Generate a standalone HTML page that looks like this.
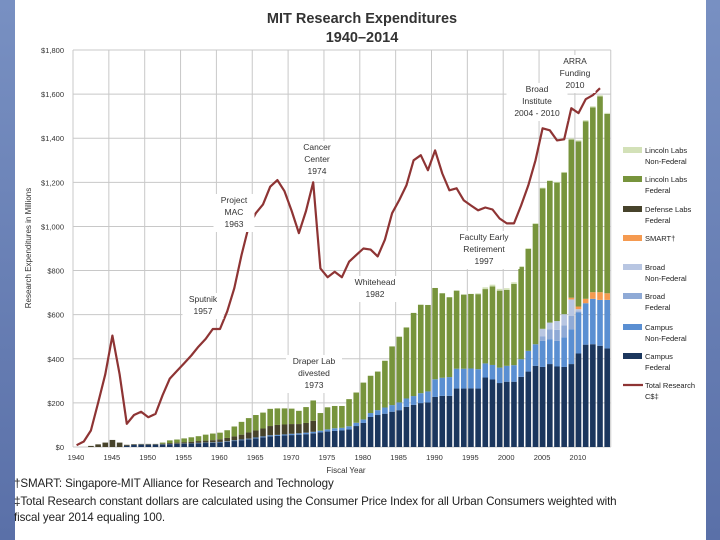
<!DOCTYPE html>
<html><head><meta charset="utf-8">
<style>
body{margin:0;width:720px;height:540px;overflow:hidden;background:#fff;font-family:"Liberation Sans",sans-serif;position:relative}
.band{position:absolute;top:0;height:540px}
.foot{position:absolute;left:14px;font-size:11.6px;color:#222;white-space:nowrap;letter-spacing:-0.1px}
</style></head>
<body>
<div class="band" style="left:0;width:15px;background:linear-gradient(#7890c2,#5a70a8)"></div>
<div class="band" style="left:706px;width:14px;background:linear-gradient(#7890c2,#5a70a8)"></div>
<svg id="chart" width="720" height="540" style="position:absolute;left:0;top:0" font-family="Liberation Sans, sans-serif">
<text x="362" y="23" text-anchor="middle" font-size="14.5" font-weight="bold" fill="#333">MIT Research Expenditures</text>
<text x="362" y="42" text-anchor="middle" font-size="14.5" font-weight="bold" fill="#333">1940–2014</text>
<g id="grid"></g><g id="bars"></g><g id="line"></g><g id="axes"></g><g id="notes"></g><g id="legend"></g>
</svg>
<div class="foot" style="top:477px">†SMART: Singapore-MIT Alliance for Research and Technology</div>
<div class="foot" style="top:495px">‡Total Research constant dollars are calculated using the Consumer Price Index for all Urban Consumers weighted with</div>
<div class="foot" style="top:511px">fiscal year 2014 equaling 100.</div>
<script>
const barYears=[1942,1943,1944,1945,1946,1947,1948,1949,1950,1951,1952,1953,1954,1955,1956,1957,1958,1959,1960,1961,1962,1963,1964,1965,1966,1967,1968,1969,1970,1971,1972,1973,1974,1975,1976,1977,1978,1979,1980,1981,1982,1983,1984,1985,1986,1987,1988,1989,1990,1991,1992,1993,1994,1995,1996,1997,1998,1999,2000,2001,2002,2003,2004,2005,2006,2007,2008,2009,2010,2011,2012,2013,2014];
const campusFederal=[0,0,0,0,0,6,9,10,10,10,11,13,14,15,16,17,18,19,21,24,27,31,35,39,44,48,50,52,54,56,58,62,66,70,73,75,80,95,109,136,145,151,160,167,182,191,199,202,227,232,232,265,265,266,265,315,306,290,296,296,318,342,368,363,376,365,363,376,424,464,466,459,447];
const campusNonFederal=[0,0,0,0,0,0,1,1,1,1,1,1,1,1,1,2,2,2,2,2,3,3,3,4,4,5,5,5,6,6,7,7,8,10,12,12,14,15,16,18,22,28,30,35,38,40,45,50,80,82,85,90,90,90,88,64,66,70,72,75,80,94,98,118,113,116,134,158,186,188,206,208,220];
const broadFederal=[0,0,0,0,0,0,0,0,0,0,0,0,0,0,0,0,0,0,0,0,0,0,0,0,0,0,0,0,0,0,0,0,0,0,0,0,0,0,0,0,0,0,0,0,0,0,0,0,0,0,0,0,0,0,0,0,0,0,0,0,0,0,0,20,45,50,55,60,5,0,0,0,0];
const broadNonFederal=[0,0,0,0,0,0,0,0,0,0,0,0,0,0,0,0,0,0,0,0,0,0,0,0,0,0,0,0,0,0,0,0,0,0,0,0,0,0,0,0,0,0,0,0,0,0,0,0,0,0,0,0,0,0,0,0,0,0,0,0,0,0,0,35,30,40,50,75,10,0,0,0,0];
const smart=[0,0,0,0,0,0,0,0,0,0,0,0,0,0,0,0,0,0,0,0,0,0,0,0,0,0,0,0,0,0,0,0,0,0,0,0,0,0,0,0,0,0,0,0,0,0,0,0,0,0,0,0,0,0,0,0,0,0,0,0,0,0,0,0,0,0,0,8,12,20,30,35,30];
const defenseLabsFederal=[5,12,20,32,20,4,3,3,3,3,3,4,5,6,7,8,9,10,12,15,18,22,28,32,36,42,45,45,44,42,44,50,0,0,0,0,0,0,0,0,0,0,0,0,0,0,0,0,0,0,0,0,0,0,0,0,0,0,0,0,0,0,0,0,0,0,0,0,0,0,0,0,0];
const lincolnFederal=[0,0,0,0,0,0,0,0,0,0,5,12,14,17,20,22,27,30,30,35,45,58,65,70,72,78,75,73,70,60,72,92,80,100,101,99,123,137,167,169,175,212,266,298,322,377,401,392,414,383,362,354,336,338,340,337,356,349,344,368,418,462,545,637,642,628,642,717,749,805,838,888,813];
const lincolnNonFederal=[0,0,0,0,0,0,0,0,0,0,0,0,0,0,0,0,0,0,0,0,0,0,0,0,0,0,0,0,0,0,0,0,0,0,0,0,0,0,0,0,0,0,0,0,0,0,0,0,0,0,0,0,0,0,4,8,8,8,8,8,4,4,4,3,3,3,3,5,5,5,5,5,5];
const lineYears=[1940,1941,1942,1943,1944,1945,1946,1947,1948,1949,1950,1951,1952,1953,1954,1955,1956,1957,1958,1959,1960,1961,1962,1963,1964,1965,1966,1967,1968,1969,1970,1971,1972,1973,1974,1975,1976,1977,1978,1979,1980,1981,1982,1983,1984,1985,1986,1987,1988,1989,1990,1991,1992,1993,1994,1995,1996,1997,1998,1999,2000,2001,2002,2003,2004,2005,2006,2007,2008,2009,2010,2011,2012,2013];
const totalConstant=[8,25,75,200,330,505,330,105,145,160,135,150,235,310,345,380,415,455,490,535,535,615,720,870,1000,1060,1100,1180,1210,1160,1070,970,1070,1200,810,770,795,770,840,870,900,895,864,940,1060,1120,1186,1300,1323,1255,1345,1240,1164,1173,1118,1095,1073,1086,1077,1036,1014,1014,1095,1186,1300,1445,1436,1390,1395,1536,1514,1577,1595,1627];
const yTicks=[0,200,400,600,800,1000,1200,1400,1600,1800];
const yTickLabels=["$0","$200","$400","$600","$800","$1,000","$1,200","$1,400","$1,600","$1,800"];
const xTicks=[1940,1945,1950,1955,1960,1965,1970,1975,1980,1985,1990,1995,2000,2005,2010];

const NS="http://www.w3.org/2000/svg";
const X0=73,XW=7.17,Y0=447,YS=(447-50)/1800;
const xs=yr=>X0+(yr-1940)*XW;
const ys=v=>Y0-v*YS;
function mk(tag,attrs,parent){const e=document.createElementNS(NS,tag);for(const k in attrs)e.setAttribute(k,attrs[k]);parent.appendChild(e);return e;}
const grid=document.getElementById('grid'),axes=document.getElementById('axes');
yTicks.forEach((t,i)=>{
  const l=mk('line',{x1:X0,x2:xs(2015),y1:ys(t),y2:ys(t),stroke:'#c8c8c8','stroke-width':1},grid);
  
  
  const tx=mk('text',{x:64,y:ys(t)+3,'text-anchor':'end','font-size':7.5,fill:'#333'},axes);
  tx.textContent=yTickLabels[i];
  
  
});
xTicks.concat([2015]).forEach(t=>{
  const l=mk('line',{x1:xs(t),x2:xs(t),y1:ys(1800),y2:Y0,stroke:'#c8c8c8','stroke-width':1},grid);
  
  
});
xTicks.forEach(t=>{
  const tx=mk('text',{x:xs(t)+3,y:460,'text-anchor':'middle','font-size':7.5,fill:'#333'},axes);
  tx.textContent=String(t);
  
  
});
let t1=mk('text',{x:346,y:473,'text-anchor':'middle','font-size':8,fill:'#333'},axes);t1.textContent='Fiscal Year';


let t2=mk('text',{x:31,y:248,'text-anchor':'middle','font-size':8,fill:'#333',transform:'rotate(-90 31 248)'},axes);t2.textContent='Research Expenditures in Millions';



const series=[
 ['campus-federal',campusFederal,'#1b365d'],
 ['campus-non-federal',campusNonFederal,'#5a8fd2'],
 ['broad-federal',broadFederal,'#8faad6'],
 ['broad-non-federal',broadNonFederal,'#b8c6e2'],
 ['smart',smart,'#f59a50'],
 ['defense-labs-federal',defenseLabsFederal,'#47432b'],
 ['lincoln-labs-federal',lincolnFederal,'#77943c'],
 ['lincoln-labs-non-federal',lincolnNonFederal,'#d3e1b8']];
const bars=document.getElementById('bars');
barYears.forEach((yr,i)=>{
  let acc=0;
  series.forEach(s=>{
    const v=s[1][i]; if(!v)return;
    const r=mk('rect',{x:xs(yr)+0.8,width:5.6,y:ys(acc+v),height:v*YS,fill:s[2]},bars);
    
    
    acc+=v;
  });
});
const pts=lineYears.map((yr,i)=>(xs(yr)+3.6).toFixed(1)+','+ys(totalConstant[i]).toFixed(1)).join(' ');
const pl=mk('polyline',{points:pts,fill:'none',stroke:'#8e3434','stroke-width':2.2,'stroke-linejoin':'round'},document.getElementById('line'));



const notes=[
 ['sputnik-note',203,302,['Sputnik','1957']],
 ['project-mac-note',234,203,['Project','MAC','1963']],
 ['cancer-center-note',317,150,['Cancer','Center','1974']],
 ['whitehead-note',375,285,['Whitehead','1982']],
 ['draper-lab-note',314,364,['Draper Lab','divested','1973']],
 ['faculty-retirement-note',484,240,['Faculty Early','Retirement','1997']],
 ['broad-institute-note',537,92,['Broad','Institute','2004 - 2010']],
 ['arra-note',575,64,['ARRA','Funding','2010']]];
const ng=document.getElementById('notes');
notes.forEach(n=>{
  const g=mk('g',{},ng);
  
  
  const w=Math.max(...n[3].map(s=>s.length))*5+6;
  mk('rect',{x:n[1]-w/2,y:n[2]-9,width:w,height:n[3].length*12+2,fill:'#fff'},g);
  n[3].forEach((s,k)=>{const t=mk('text',{x:n[1],y:n[2]+k*12,'text-anchor':'middle','font-size':8.5,fill:'#333'},g);t.textContent=s;});
});
const legend=[
 ['legend-lincoln-non-federal','#d3e1b8',150,['Lincoln Labs','Non-Federal'],'rect'],
 ['legend-lincoln-federal','#77943c',179,['Lincoln Labs','Federal'],'rect'],
 ['legend-defense-labs','#47432b',209,['Defense Labs','Federal'],'rect'],
 ['legend-smart','#f59a50',238,['SMART†'],'rect'],
 ['legend-broad-non-federal','#b8c6e2',267,['Broad','Non-Federal'],'rect'],
 ['legend-broad-federal','#8faad6',296,['Broad','Federal'],'rect'],
 ['legend-campus-non-federal','#5a8fd2',327,['Campus','Non-Federal'],'rect'],
 ['legend-campus-federal','#1b365d',356,['Campus','Federal'],'rect'],
 ['legend-total-research','#8e3434',385,['Total Research','C$‡'],'line']];
const lg=document.getElementById('legend');
legend.forEach(e=>{
  const g=mk('g',{},lg);
  
  
  if(e[4]==='rect')mk('rect',{x:623,y:e[2]-3,width:19,height:6,fill:e[1]},g);
  else mk('line',{x1:623,x2:643,y1:e[2],y2:e[2],stroke:e[1],'stroke-width':2.2},g);
  e[3].forEach((s,k)=>{const t=mk('text',{x:645,y:e[2]+3+k*11,'font-size':7.5,fill:'#222'},g);t.textContent=s;});
});
</script>
</body></html>
